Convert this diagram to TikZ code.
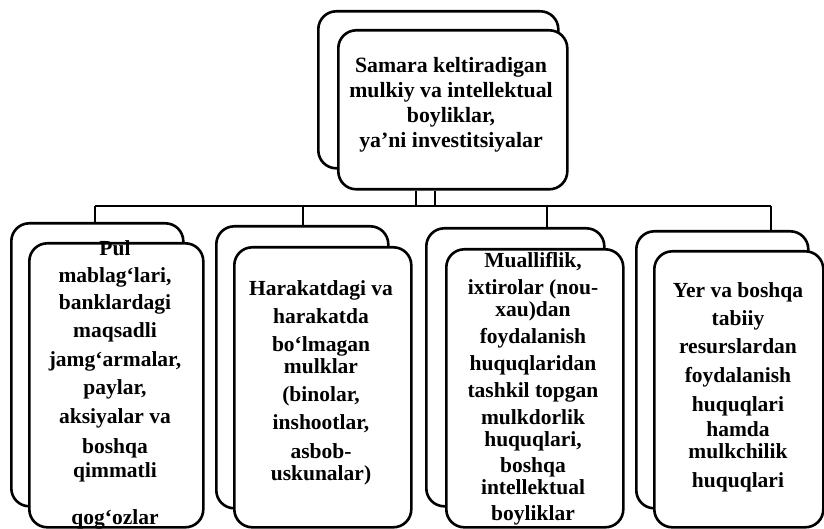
\documentclass[tikz,border=0pt]{standalone}
\usepackage{fontspec}
\setmainfont{Liberation Serif}
\begin{document}
\begin{tikzpicture}[x=1pt,y=-1pt,
  bx/.style={draw, line width=2.6pt, rounded corners=18pt, fill=white, anchor=north west, inner sep=0pt},
  txt/.style={anchor=north, inner sep=0pt, align=center, font=\fontsize{21.5}{20}\selectfont\bfseries},
  ttxt/.style={anchor=north, inner sep=0pt, align=center, font=\fontsize{21.8}{25}\selectfont\bfseries},
  conn/.style={line width=1.3pt},
  connb/.style={line width=2.8pt}]
\useasboundingbox (0,0) rectangle (824,529);
% top
\node[bx, minimum width=240pt, minimum height=157pt] (topB) at (317,10) {};
\node[bx, minimum width=229pt, minimum height=159pt] (topF) at (337,29) {};
\node[ttxt] (topT) at (451,57) {Samara keltiradigan\\mulkiy va intellektual\\boyliklar,\\ya’ni investitsiyalar};
% children
\node[bx, minimum width=172pt, minimum height=283pt] (pulB) at (10,222) {};
\node[bx, minimum width=174pt, minimum height=284pt] (pulF) at (28,242) {};
\node[bx, minimum width=172pt, minimum height=282pt] (harB) at (215,225) {};
\node[bx, minimum width=177pt, minimum height=280pt] (harF) at (233,246) {};
\node[bx, minimum width=178pt, minimum height=278pt] (mulB) at (425,227) {};
\node[bx, minimum width=177pt, minimum height=278pt] (mulF) at (445,248) {};
\node[bx, minimum width=172pt, minimum height=277pt] (yerB) at (635,230) {};
\node[bx, minimum width=169pt, minimum height=276pt] (yerF) at (653,250) {};
% texts
\node[txt] (pulT) at (115,240) {Pul\\[7pt]mablag‘lari,\\[7pt]banklardagi\\[8pt]maqsadli\\[9pt]jamg‘armalar,\\[8pt]paylar,\\[9pt]aksiyalar va\\[10pt]boshqa\\[4pt]qimmatli\\[27pt]qog‘ozlar};
\node[txt] (harT) at (321,280) {Harakatdagi va\\[8pt]harakatda\\[8pt]bo‘lmagan\\[2pt]mulklar\\[8pt](binolar,\\[8pt]inshootlar,\\[9pt]asbob-\\[2pt]uskunalar)};
\node[txt] (mulT) at (533,252) {Mualliflik,\\[7pt]ixtirolar (nou-\\[2pt]xau)dan\\[7pt]foydalanish\\[7pt]huquqlaridan\\[7pt]tashkil topgan\\[7pt]mulkdorlik\\[2pt]huquqlari,\\[6pt]boshqa\\[2pt]intellektual\\[6pt]boyliklar};
\node[txt] (yerT) at (738,282) {Yer va boshqa\\[8pt]tabiiy\\[8pt]resurslardan\\[9pt]foydalanish\\[9pt]huquqlari\\[5pt]hamda\\[2pt]mulkchilik\\[9pt]huquqlari};
% connectors
\coordinate (j1) at (416,206);
\coordinate (j2) at (435,206);
\coordinate (bL) at (95,206);
\coordinate (bH) at (303,206);
\coordinate (bM) at (547,206);
\coordinate (bR) at (771,206);
\draw[conn] (topF.south -| j1) -- (j1);
\draw[connb] (topF.south -| j2) -- (j2);
\draw[conn] (bL) -- (bR);
\draw[conn] (bL) -- (bL |- pulB.north);
\draw[conn] (bH) -- (bH |- harB.north);
\draw[conn] (bM) -- (bM |- mulB.north);
\draw[conn] (bR) -- (bR |- yerB.north);
\end{tikzpicture}
\end{document}
